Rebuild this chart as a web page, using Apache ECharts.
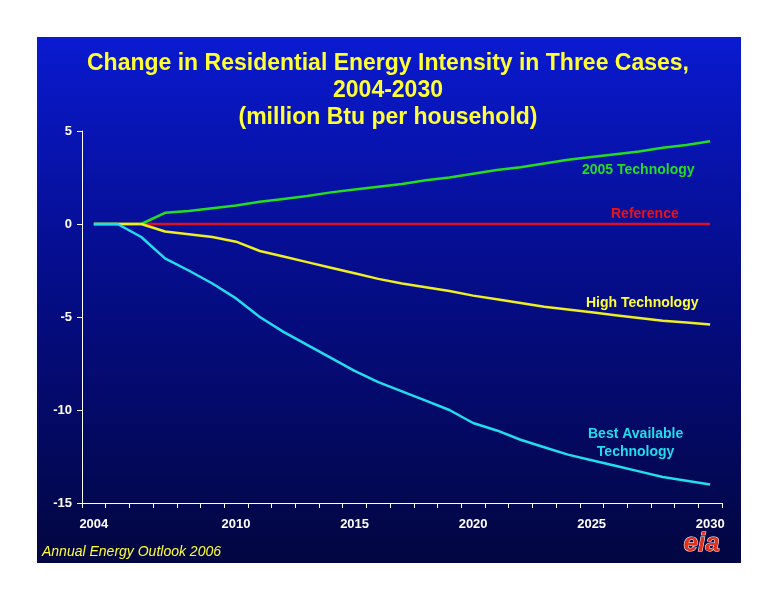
<!DOCTYPE html><html><head><meta charset="utf-8"><script src="https://cdn.jsdelivr.net/npm/echarts@6/dist/echarts.min.js"></script>
<style>html,body{margin:0;background:#fff}#c{width:776px;height:600px}</style></head><body><div id="c"></div><script>
const years=[];for(let y=2004;y<=2030;y++)years.push(String(y));
const tickLabels=['2004','2010','2015','2020','2025','2030'];
const reference=[0,0,0,0,0,0,0,0,0,0,0,0,0,0,0,0,0,0,0,0,0,0,0,0,0,0,0];
const tech2005=[0,0,0,0.6,0.7,0.85,1.0,1.2,1.35,1.5,1.7,1.85,2.0,2.15,2.35,2.5,2.7,2.9,3.05,3.25,3.45,3.6,3.75,3.9,4.1,4.25,4.45];
const highTech=[0,0,0,-0.4,-0.55,-0.7,-0.95,-1.45,-1.75,-2.05,-2.35,-2.65,-2.95,-3.2,-3.4,-3.6,-3.85,-4.05,-4.25,-4.45,-4.6,-4.75,-4.9,-5.05,-5.2,-5.3,-5.4];
const bestTech=[0,0,-0.7,-1.85,-2.5,-3.2,-4.0,-5.0,-5.8,-6.5,-7.2,-7.9,-8.5,-9.0,-9.5,-10.0,-10.7,-11.1,-11.6,-12.0,-12.4,-12.7,-13.0,-13.3,-13.6,-13.8,-14.0];
const ch=echarts.init(document.getElementById('c'));
const F='Arial, Liberation Sans, sans-serif';
ch.setOption({
 animation:false,
 graphic:[
  {type:'rect',z:-10,shape:{x:37,y:37,width:704,height:526},style:{fill:new echarts.graphic.LinearGradient(0,0,0,1,[{offset:0,color:'#0a1ad0'},{offset:0.45,color:'#050d8a'},{offset:1,color:'#020640'}])}},
  {type:'text',left:'center',top:50,style:{text:'Change in Residential Energy Intensity in Three Cases,\n2004-2030\n(million Btu per household)',fill:'#ffff33',font:'bold 23px '+F,textAlign:'center',lineHeight:27}},
  {type:'text',left:42,top:545,style:{text:'Annual Energy Outlook 2006',fill:'#ffff33',font:'italic 14px '+F}},
  {type:'text',left:683,top:530,style:{text:'eia',fill:'#e03020',font:'bold italic 26px '+F,stroke:'#ffffff',lineWidth:1}},
  {type:'text',left:582,top:163,style:{text:'2005 Technology',fill:'#22dd22',font:'bold 14px '+F}},
  {type:'text',left:611,top:207,style:{text:'Reference',fill:'#ee1111',font:'bold 14px '+F}},
  {type:'text',left:586,top:296,style:{text:'High Technology',fill:'#ffff33',font:'bold 14px '+F}},
  {type:'text',left:588,top:425,style:{text:'Best Available\nTechnology',fill:'#22ddee',font:'bold 14px '+F,textAlign:'center',lineHeight:18}}
 ],
 grid:{left:82,right:54,top:131,bottom:97},
 xAxis:{type:'category',data:years,boundaryGap:true,
  axisLine:{onZero:false,lineStyle:{color:'#ffffff'}},axisTick:{show:true,interval:0,length:5,lineStyle:{color:'#ffffff'}},
  axisLabel:{interval:0,color:'#fff',fontWeight:'bold',fontSize:13,fontFamily:F,margin:15,formatter:v=>tickLabels.includes(v)?v:''},splitLine:{show:false}},
 yAxis:{type:'value',min:-15,max:5,interval:5,axisLine:{show:true,lineStyle:{color:'#ffffff'}},axisTick:{show:true,length:5,lineStyle:{color:'#fff'}},
  axisLabel:{color:'#fff',fontWeight:'bold',fontSize:13,fontFamily:F,margin:10},splitLine:{show:false}},
 series:[
  {type:'line',data:reference,symbol:'none',lineStyle:{color:'#dd1122',width:2.5}},
  {type:'line',data:tech2005,symbol:'none',lineStyle:{color:'#22dd22',width:2.5}},
  {type:'line',data:highTech,symbol:'none',lineStyle:{color:'#eeee22',width:2.5}},
  {type:'line',data:bestTech,symbol:'none',lineStyle:{color:'#22ddee',width:2.5}}
 ]
});
</script></body></html>
